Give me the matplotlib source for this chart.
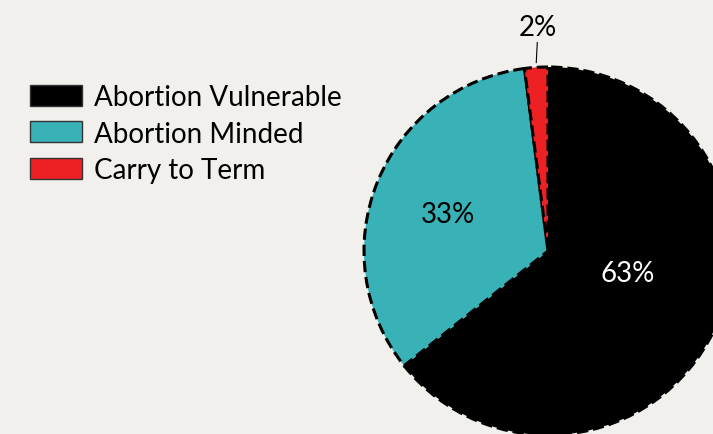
import matplotlib.pyplot as plt
from matplotlib.patches import Patch
import numpy as np

# data
labels = ['Abortion Vulnerable', 'Abortion Minded', 'Carry to Term']
values = [63, 33, 2]
pct_text = ['63%', '33%', '2%']

colors = ['#000000', '#38b2b6', '#ed2024']
bg = '#f1f0ec'
FONT = ['Lato', 'DejaVu Sans']
FS = 20

W, H = 713, 435
fig = plt.figure(figsize=(W / 100, H / 100), dpi=100, facecolor=bg)
ax = fig.add_axes([0, 0, 1, 1])
ax.set_facecolor(bg)

cx, cy, R = 548, H - 252, 184

wedges, _ = ax.pie(values, colors=colors, startangle=90, counterclock=False,
                   center=(cx, cy), radius=R, frame=True,
                   wedgeprops=dict(edgecolor='black', linewidth=2.2, linestyle='--'))
ax.set_xlim(0, W)
ax.set_ylim(0, H)
ax.set_aspect('equal')
ax.axis('off')

# label placement: (radius fraction, angle tweak in deg, text colour)
lab_style = [(0.45, 10, 'white'), (0.58, 2, 'black'), (None, 0, 'black')]
for w, txt, (rf, dang, tc) in zip(wedges, pct_text, lab_style):
    mid = np.deg2rad((w.theta1 + w.theta2) / 2 + dang)
    if rf is not None:
        ax.text(cx + rf * R * np.cos(mid), cy + rf * R * np.sin(mid), txt,
                color=tc, fontsize=FS, family=FONT,
                ha='center', va='center')
    else:
        x0 = cx + 1.01 * R * np.cos(mid)
        y0 = cy + 1.01 * R * np.sin(mid)
        ax.annotate(txt, xy=(x0, y0), xytext=(x0 + 2, y0 + 26),
                    color=tc, fontsize=FS, family=FONT,
                    ha='center', va='bottom',
                    arrowprops=dict(arrowstyle='-', color='black', lw=0.8,
                                    shrinkA=0, shrinkB=2))

handles = [Patch(facecolor=c, edgecolor='#333333', linewidth=1) for c in colors]
fig.legend(handles, labels, loc='upper left',
           bbox_to_anchor=(30 / W, 1 - 85 / H), frameon=False,
           borderpad=0, borderaxespad=0,
           handlelength=1.87, handleheight=0.79, handletextpad=0.45,
           labelspacing=0.38, prop=dict(family=FONT, size=FS))

fig.savefig('out.png', dpi=100, facecolor=bg)
